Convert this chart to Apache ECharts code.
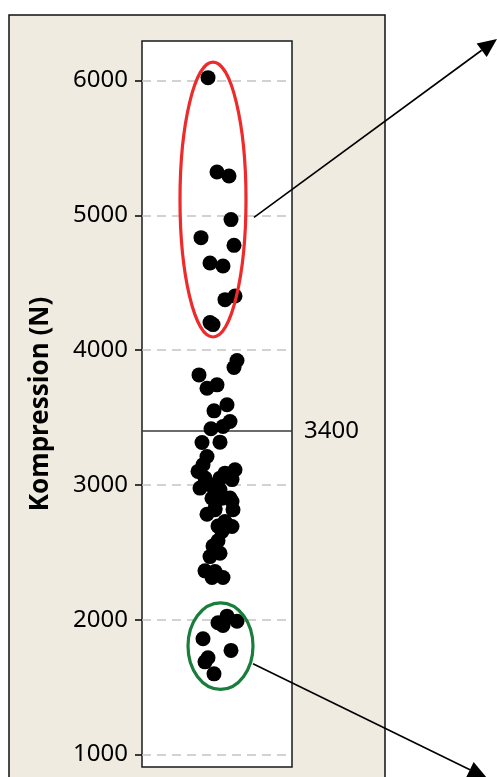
<!DOCTYPE html>
<html>
<head>
<meta charset="utf-8">
<script src="https://cdn.jsdelivr.net/npm/echarts@6/dist/echarts.min.js"></script>
<style>
  html, body { margin: 0; padding: 0; background: #ffffff; }
  #chart { width: 497px; height: 777px; }
</style>
</head>
<body>
<div id="chart"></div>
<script>
// Axis ticks and visible range of the compression axis (N)
const yTicks = [1000, 2000, 3000, 4000, 5000, 6000];
const yRange = [908, 6294];
const refValue = 3400;

// Horizontal jitter (0..150) and compression value of each specimen
const jitter = [
  66, 75, 87, 89, 59, 92, 68, 81, 93, 83, 68, 71,
  95, 92, 57, 65, 75, 85, 72, 88, 69, 81, 78, 60,
  65, 61, 56, 93, 86, 78, 58, 68, 78, 90, 70, 80,
  90, 91, 65, 73, 83, 90, 80, 76, 78, 68, 63, 73,
  81, 70, 63, 73, 83, 73, 88, 76, 71,
  85, 76, 81, 95, 61, 89, 66, 63, 72
];
const kompression = [
  6022, 5322, 5292, 4969, 4835, 4778, 4647, 4625, 4402, 4375, 4205, 4190,
  3924, 3872, 3817, 3718, 3743, 3595, 3550, 3471, 3417, 3434, 3318, 3315,
  3211, 3150, 3101, 3113, 3064, 3051, 2977, 3002, 2965, 3040, 2902, 2902,
  2878, 2816, 2783, 2816, 2729, 2692, 2655, 2586, 2494, 2469, 2363, 2358,
  2314, 2314, 3052, 2940, 3088, 2828, 2903, 2695, 2547,
  2027, 1978, 1958, 1990, 1859, 1773, 1718, 1688, 1599
];

// Highlight ellipses: [centre jitter, centre value, half width (jitter units), top value, bottom value]
const highGroup = [71, 5118, 33, 6138, 4098];
const lowGroup = [78.5, 1805, 32.5, 2126, 1484];

const FONT = '"Noto Sans", "DejaVu Sans", sans-serif';

const chart = echarts.init(document.getElementById('chart'), null, { renderer: 'canvas' });

const points = jitter.map((x, i) => [x, kompression[i]]);

const gridLines = yTicks.map(v => ({
  yAxis: v,
  lineStyle: { type: [9, 6], color: '#c4c4c4', width: 1.5 },
  label: { show: false }
}));

chart.setOption({
  animation: false,
  backgroundColor: '#ffffff',
  grid: {
    left: 142, top: 41, width: 150, height: 726,
    show: true, backgroundColor: '#ffffff',
    borderColor: '#1a1a1a', borderWidth: 1.5
  },
  xAxis: { type: 'value', min: 0, max: 150, show: false },
  yAxis: {
    type: 'value',
    min: yRange[0], max: yRange[1],
    name: 'Kompression (N)',
    nameLocation: 'middle',
    nameGap: 88,
    nameTextStyle: { fontFamily: FONT, fontWeight: 'bold', fontSize: 26, color: '#000' },
    axisLine: { show: false },
    axisTick: { show: true, length: 7, lineStyle: { color: '#000', width: 1.5 }, customValues: yTicks },
    axisLabel: {
      margin: 14, fontFamily: FONT, fontSize: 24, color: '#000',
      customValues: yTicks,
      formatter: v => String(v)
    },
    splitLine: { show: false }
  },
  series: [
    {
      type: 'line',
      data: [],
      z: 1,
      markLine: {
        silent: true,
        symbol: 'none',
        z: 1,
        animation: false,
        data: gridLines.concat([{
          yAxis: refValue,
          lineStyle: { type: 'solid', color: '#3a3a3a', width: 1.5 },
          label: {
            show: true, position: 'end', distance: 12,
            formatter: String(refValue),
            fontFamily: FONT, fontSize: 24, color: '#000'
          }
        }])
      }
    },
    {
      type: 'scatter',
      z: 3,
      data: points,
      symbol: 'circle',
      symbolSize: 15,
      itemStyle: { color: '#000', opacity: 1 },
      silent: true
    }
  ]
});

// Annotation layer: panel, ellipses around groups and leader arrows
function ellipseFrom(spec, color) {
  const c = chart.convertToPixel({ gridIndex: 0 }, [spec[0], spec[1]]);
  const r = chart.convertToPixel({ gridIndex: 0 }, [spec[0] + spec[2], spec[1]]);
  const t = chart.convertToPixel({ gridIndex: 0 }, [spec[0], spec[3]]);
  const b = chart.convertToPixel({ gridIndex: 0 }, [spec[0], spec[4]]);
  return {
    type: 'ellipse',
    z: 10,
    shape: { cx: c[0], cy: (t[1] + b[1]) / 2, rx: r[0] - c[0], ry: (b[1] - t[1]) / 2 },
    style: { fill: 'none', stroke: color, lineWidth: 3.2 }
  };
}

function arrow(start, end) {
  const dx = end[0] - start[0], dy = end[1] - start[1];
  const len = Math.hypot(dx, dy);
  const ux = dx / len, uy = dy / len;
  const px = -uy, py = ux;
  const headLen = 19, headHalf = 8.5;
  const bx = end[0] - ux * headLen, by = end[1] - uy * headLen;
  return [
    {
      type: 'line', z: 10,
      shape: { x1: start[0], y1: start[1], x2: bx, y2: by },
      style: { stroke: '#000', lineWidth: 1.6 }
    },
    {
      type: 'polygon', z: 10,
      shape: { points: [[end[0], end[1]], [bx + px * headHalf, by + py * headHalf], [bx - px * headHalf, by - py * headHalf]] },
      style: { fill: '#000' }
    }
  ];
}

const upStart = chart.convertToPixel({ gridIndex: 0 }, [112, 4986]);
const downStart = chart.convertToPixel({ gridIndex: 0 }, [111, 1674]);

chart.setOption({
  graphic: [
    {
      type: 'rect', z: -10, silent: true,
      shape: { x: 9, y: 15, width: 376, height: 780 },
      style: { fill: '#efebe0', stroke: '#111', lineWidth: 1.5 }
    },
    ellipseFrom(highGroup, '#ee2a2a'),
    ellipseFrom(lowGroup, '#1a7d3c')
  ].concat(arrow(upStart, [497, 39]), arrow(downStart, [487, 778]))
});
</script>
</body>
</html>
